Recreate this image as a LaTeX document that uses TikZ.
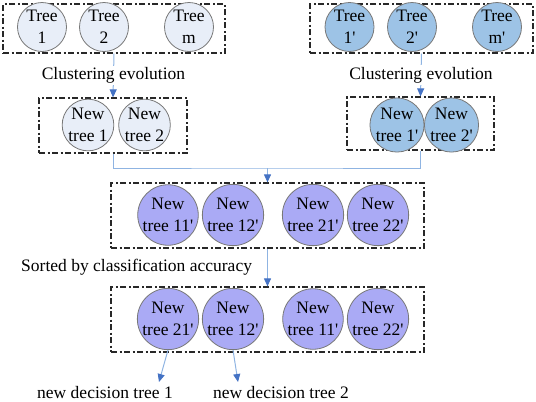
\documentclass[tikz,border=0pt]{standalone}
\usepackage{fontspec}
\setmainfont{Liberation Serif}[Ligatures=TeXOff]
\usetikzlibrary{arrows.meta}

\definecolor{treegray}{RGB}{232,238,248}
\definecolor{treeblue}{RGB}{157,195,230}
\definecolor{treeviolet}{RGB}{170,170,245}
\definecolor{linkblue}{RGB}{143,180,226}
\definecolor{headblue}{RGB}{68,114,196}
\definecolor{rimgray}{RGB}{120,120,120}

\begin{document}
\begin{tikzpicture}[x=1pt,y=1pt,yscale=-1,
	treenode/.style={circle,draw=rimgray,line width=0.8,inner sep=0pt,minimum size=49,align=center,font=\fontsize{17.5}{22}\selectfont},
	bignode/.style={treenode,minimum size=57},
	grpbox/.style={rectangle,draw={rgb,255:red,40;green,40;blue,40},line width=1.2,dash pattern=on 6pt off 2.5pt on 2pt off 2.5pt,inner sep=0pt},
	link/.style={draw=linkblue,line width=1},
	flow/.style={link,-{Triangle[length=8pt,width=7pt,color=headblue]}},
	lbl/.style={font=\fontsize{17.5}{22}\selectfont,inner sep=2pt}]
	\useasboundingbox (0,0) rectangle (536,402);

	% Group Box
	\node [grpbox,minimum width=222,minimum height=49] (grpA) at (114,28.5) {};
	\node [grpbox,minimum width=148,minimum height=55] (grpAnew) at (113,125.5) {};
	\node [grpbox,minimum width=223,minimum height=49] (grpB) at (421.5,28.5) {};
	\node [grpbox,minimum width=147,minimum height=53] (grpBnew) at (420.5,123.5) {};
	\node [grpbox,minimum width=313,minimum height=65] (grpMix) at (267.5,215.5) {};
	\node [grpbox,minimum width=313,minimum height=65] (grpRank) at (267.5,319.5) {};

	% Text Node
	\node [treenode,fill=treegray] (treeA1) at (42,27) {Tree\\1};
	\node [treenode,fill=treegray] (treeA2) at (104,27) {Tree\\2};
	\node [treenode,fill=treegray] (treeAm) at (189,27) {Tree\\m};
	\node [treenode,fill=treegray,minimum size=50] (newA1) at (88,125) {New\\tree 1};
	\node [treenode,fill=treegray,minimum size=50] (newA2) at (144.5,125) {New\\tree 2};
	% Text Node
	\node [treenode,fill=treeblue] (treeB1) at (349.5,27) {Tree\\1'};
	\node [treenode,fill=treeblue] (treeB2) at (412,27) {Tree\\2'};
	\node [treenode,fill=treeblue] (treeBm) at (497,27) {Tree\\m'};
	\node [treenode,fill=treeblue,minimum size=50] (newB1) at (397,125) {New\\tree 1'};
	\node [treenode,fill=treeblue,minimum size=50] (newB2) at (451.5,125) {New\\tree 2'};
	% Text Node
	\node [bignode,fill=treeviolet] (mix11) at (168,215) {New\\tree 11'};
	\node [bignode,fill=treeviolet] (mix12) at (233,215) {New\\tree 12'};
	\node [bignode,fill=treeviolet] (mix21) at (313,215) {New\\tree 21'};
	\node [bignode,fill=treeviolet] (mix22) at (378,215) {New\\tree 22'};
	\node [bignode,fill=treeviolet] (rank21) at (168,319) {New\\tree 21'};
	\node [bignode,fill=treeviolet] (rank12) at (233,319) {New\\tree 12'};
	\node [bignode,fill=treeviolet] (rank11) at (313,319) {New\\tree 11'};
	\node [bignode,fill=treeviolet] (rank22) at (378,319) {New\\tree 22'};
	% Text Node
	\node [lbl] (decA) at (105,393) {new decision tree 1};
	\node [lbl] (decB) at (281,393) {new decision tree 2};
	\coordinate (join) at (267.5,168);
	\coordinate (endA) at (159,382);
	\coordinate (endB) at (238,382);

	% Connection
	\draw [flow] (grpA.south) -- node [lbl,fill=white] {Clustering evolution} (grpAnew.north);
	\draw [flow] (grpB.south) -- node [lbl,fill=white] {Clustering evolution} (grpBnew.north);
	\draw [link] (grpAnew.south) |- (join) -| (grpBnew.south);
	\draw [flow] (join) -- (grpMix.north);
	\draw [flow] (grpMix.south) -- node [lbl,left=13pt] {Sorted by classification accuracy} (grpRank.north);
	\draw [flow] (rank21.south) -- (endA);
	\draw [flow] (rank12.south) -- (endB);

\end{tikzpicture}
\end{document}
